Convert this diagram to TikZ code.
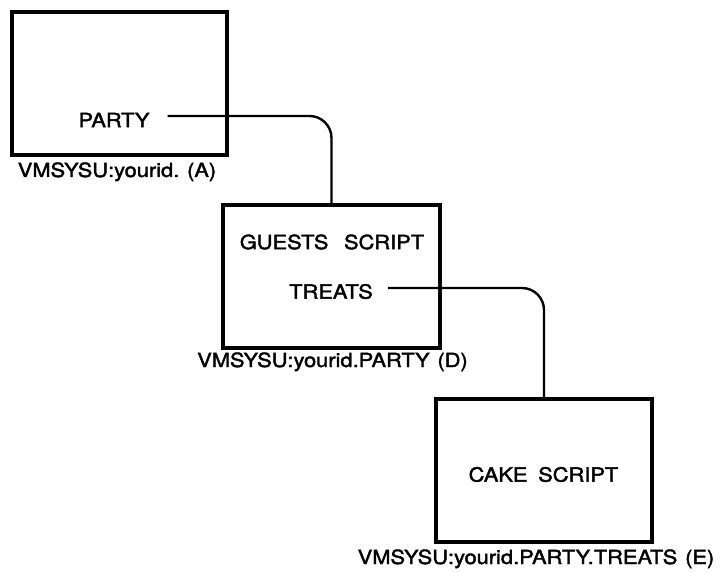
\documentclass[tikz,border=0pt]{standalone}
\usepackage{fontspec}
\setmainfont[FakeStretch=1.12,FakeBold=2]{TeX Gyre Heros}
\begin{document}
\begin{tikzpicture}[x=1pt,y=-1pt,
  box/.style={draw,line width=4pt,minimum width=#1,minimum height=143pt,inner sep=0pt},
  txt/.style={inner sep=0pt,font=\fontsize{19.5}{24}\selectfont},
  lbl/.style={inner sep=0pt,anchor=base,font=\fontsize{19.5}{24}\selectfont},
  conn/.style={line width=2.4pt,rounded corners=22pt}]
\useasboundingbox (0,0) rectangle (720,572);
\node[box=215pt] (boxA) at (119.5,83.5) {};
\node[box=217pt] (boxD) at (331.5,276.5) {};
\node[box=216pt] (boxE) at (544,470.5) {};
\node[txt] (party) at (114,120) {PARTY};
\node[txt] (guests) at (332,242) {GUESTS\hspace{0.8em}SCRIPT};
\node[txt] (treats) at (331,291.5) {TREATS};
\node[txt] (cake) at (543.5,474.5) {CAKE\hspace{0.55em}SCRIPT};
\node[lbl] (labA) at (117,177) {VMSYSU:yourid.\hspace{0.4em}(A)};
\node[lbl] (labD) at (332.5,367) {VMSYSU:yourid.PARTY\hspace{0.4em}(D)};
\node[lbl] (labE) at (536,564) {VMSYSU:yourid.PARTY.TREATS\hspace{0.4em}(E)};
\draw[conn] ([xshift=18pt,yshift=4pt]party.east) -| (boxD.north);
\draw[conn] ([xshift=15pt,yshift=3.5pt]treats.east) -| (boxE.north);
\end{tikzpicture}
\end{document}
